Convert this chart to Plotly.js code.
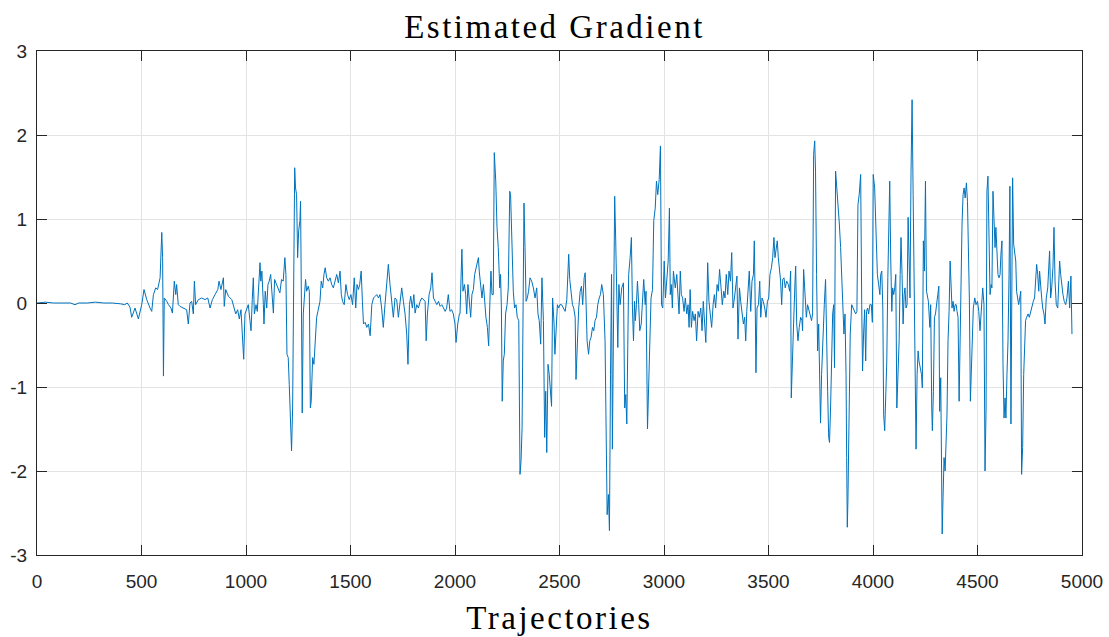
<!DOCTYPE html>
<html>
<head>
<meta charset="utf-8">
<script src="https://cdn.plot.ly/plotly-3.0.1.min.js"></script>
<style>html,body{margin:0;padding:0;background:#fff;}#chart{width:1109px;height:637px;}
#chart .gtitle, #chart .xtitle{letter-spacing:2.5px;}</style>
</head>
<body>
<div id="chart"></div>
<script>
const trajectories = [
0,40,80,120,160,182,200,240,280,320,360,400,420,432,445,453,461,
469,485,501,512,525,541,549,557,568,577,589,597,601,605,609,621,629,641,648,657,664,668,676,684,700,716,724,732,740,748,753,759,772,788,804,817,828,839,852,865,871,880,892,896,903,916,932,943,951,960,968,976,983,989,995,1003,1011,1019,
1024,1030,1035,1040,1048,1054,1062,1067,1071,1076,1083,1086,1092,1099,1105,1111,1118,1124,1131,1137,1146,1154,1162,1170,1178,1186,1191,1196,1202,1207,1213,1218,1223,1228,1233,1237,1242,1247,1252,1258,1261,1266,1269,1274,1279,1285,1290,1298,1303,1308,1312,1319,1325,1331,1338,1344,1354,1360,1367,1373,1379,1386,1394,1402,1410,1418,1426,1434,1442,1450,1456,1462,1470,1478,1486,1494,1502,1510,1518,
1525,1531,1538,1544,1551,1557,1562,1570,1578,1586,1594,1602,1610,1618,1626,1634,1641,1649,1657,1665,1673,1681,1689,1697,1705,1713,1721,1729,1737,1745,1753,1761,1769,1775,1782,1788,1796,1803,1809,1817,1825,1833,1841,1849,1857,1862,1868,1876,1884,1890,1897,1905,1913,1921,1929,1937,1945,1953,1960,1968,1976,1984,1992,2000,2005,2013,2021,
2024,2029,2033,2038,2045,2051,2056,2062,2069,2075,2081,2088,2094,2100,2107,2112,2116,2123,2129,2136,2142,2148,2155,2161,2166,2172,2177,2183,2188,2195,2201,2207,2214,2218,2222,2226,2231,2236,2242,2249,2255,2262,2266,2273,2279,2285,2292,2298,2305,2311,2316,2321,2325,2330,2335,2340,2346,2352,2359,2367,2375,2383,2391,2397,2403,2410,2416,2423,2429,2434,2439,2445,2451,2458,2462,2467,2474,2478,2483,2490,2496,2502,2510,2518,
2520,2527,2535,2540,2544,2549,2556,2562,2568,2575,2579,2586,2592,2599,2605,2611,2618,2623,2627,2632,2639,2645,2651,2658,2664,2670,2677,2683,2690,2696,2702,2710,2718,2723,2728,2734,2739,2744,2749,2753,2758,2764,2769,2774,2779,2784,2790,2798,2806,2812,2817,2822,2827,2831,2838,2844,2849,2854,2859,2863,2868,2873,2879,2884,2891,2897,2903,2910,2914,2921,2926,2932,2938,2945,2951,2958,2964,2970,2977,2983,2988,2994,3001,3007,3013,3020,3026,
3030,3035,3040,3045,3050,3054,3061,3067,3072,3078,3083,3089,3096,3102,3109,3115,3120,3125,3131,3137,3144,3150,3156,3163,3169,3176,3182,3188,3195,3200,3204,3209,3215,3222,3228,3235,3241,3247,3254,3260,3266,3273,3279,3286,3292,3298,3305,3311,3318,3324,3330,3337,3343,3349,3354,3361,3367,3373,3380,3386,3391,3396,3402,3408,3415,3421,3428,3432,3437,3440,3445,3452,3458,3463,3469,3475,3482,3488,3495,3501,3507,3514,3520,3526,
3531,3536,3542,3547,3553,3558,3563,3568,3574,3580,3587,3595,3601,3606,3609,3614,3620,3627,3630,3635,3641,3647,3654,3660,3663,3668,3674,3681,3687,3694,3700,3706,3711,3716,3721,3725,3730,3735,3740,3745,3749,3754,3761,3767,3773,3778,3783,3788,3792,3797,3802,3807,3812,3816,3821,3826,3832,3839,3845,3850,3856,3861,3866,3871,3874,3877,3880,3885,3891,3898,3904,3910,3917,3923,3928,3934,3941,3946,3950,3955,3960,3965,3969,3974,3979,3985,3992,3997,4001,4008,4014,4021,4027,4033,
4037,4042,4047,4051,4056,4061,4066,4071,4075,4080,4085,4090,4094,4099,4104,4109,4114,4120,4125,4130,4134,4139,4144,4149,4153,4158,4163,4168,4173,4177,4182,4187,4192,4197,4201,4206,4211,4216,4220,4225,4232,4236,4241,4246,4251,4256,4260,4265,4272,4276,4281,4284,4289,4294,4299,4303,4310,4315,4319,4324,4327,4331,4335,4340,4345,4350,4354,4359,4364,4369,4374,4378,4383,4388,4393,4398,4402,4407,4412,4417,4421,4426,4431,4436,4441,4447,4452,4457,4461,4466,4471,4476,4480,4487,4493,4500,4506,4512,4519,4525,4531,4536,
4541,4545,4550,4555,4560,4565,4569,4574,4579,4584,4588,4593,4598,4603,4608,4612,4617,4622,4627,4632,4636,4641,4646,4651,4655,4660,4663,4668,4673,4678,4683,4687,4692,4697,4702,4707,4711,4716,4721,4726,4730,4735,4742,4748,4754,4761,4767,4773,4778,4783,4788,4793,4797,4802,4807,4812,4818,4823,4829,4836,4840,4845,4850,4855,4861,4866,4871,4877,4884,4888,4893,4898,4903,4909,4915,4922,4928,4935,4941,4947,4952
];
const gradient = [
0.00,0.01,0.00,0.00,0.00,-0.02,0.00,0.00,0.01,0.00,0.00,-0.01,-0.02,0.00,-0.05,-0.17,-0.10,
-0.06,-0.19,-0.02,0.16,0.04,-0.06,-0.10,0.10,0.18,0.16,0.30,0.84,0.54,-0.87,0.06,0.02,-0.02,-0.06,-0.12,0.26,0.10,0.22,-0.02,-0.04,-0.06,-0.08,-0.25,0.00,0.02,-0.13,0.26,-0.02,0.04,0.06,0.04,0.06,-0.06,0.04,0.10,0.16,0.26,0.16,0.30,-0.04,0.16,0.08,0.04,-0.06,-0.13,-0.08,-0.19,-0.08,-0.33,-0.67,-0.13,-0.06,-0.02,-0.21,
-0.33,0.04,0.30,-0.13,-0.02,-0.10,0.20,0.48,0.26,0.38,-0.02,-0.25,0.14,-0.06,0.22,0.26,0.34,0.14,-0.12,0.28,0.22,0.18,0.12,0.28,0.26,0.54,0.34,-0.61,-0.65,-0.97,-1.33,-1.76,-1.25,0.34,1.61,1.37,1.29,0.54,0.86,0.98,1.21,-0.25,-1.31,-0.13,0.02,0.28,0.14,0.20,0.14,-1.25,-1.17,-0.65,-0.73,-0.41,-0.17,-0.10,0.02,0.26,0.18,0.34,0.42,0.30,0.26,0.30,0.22,0.18,0.26,0.34,0.24,0.38,0.10,0.02,-0.02,0.22,0.10,0.04,0.10,-0.02,0.30,
-0.06,0.22,0.16,0.22,0.38,0.02,-0.25,-0.23,-0.29,-0.25,-0.39,-0.02,0.06,0.08,0.10,0.06,0.10,-0.06,-0.29,-0.02,0.18,0.46,0.22,0.02,-0.17,0.06,0.04,-0.17,-0.02,0.18,0.02,-0.13,-0.37,-0.73,-0.02,0.08,-0.06,0.10,-0.12,-0.02,-0.06,0.02,0.06,0.04,0.02,-0.45,-0.13,0.10,0.18,0.36,0.06,0.02,-0.02,0.02,-0.04,-0.02,-0.06,-0.10,-0.06,0.10,-0.10,-0.08,-0.13,-0.25,-0.47,-0.25,-0.13,
-0.13,0.30,0.64,0.14,0.22,0.10,-0.13,0.22,0.02,-0.17,0.10,0.16,0.34,0.42,0.48,0.54,0.38,0.18,0.06,0.22,-0.02,-0.17,-0.29,-0.51,-0.06,0.38,0.10,0.10,1.79,1.45,0.90,0.66,0.18,0.34,-0.06,-1.17,-0.69,-0.61,-0.13,-0.02,0.18,1.33,1.29,0.58,0.14,-0.06,-0.02,-0.17,-0.21,-2.04,-1.88,-1.48,0.02,1.19,0.66,0.02,0.06,0.14,0.30,0.26,0.18,0.06,0.18,-0.13,-0.21,-0.49,0.30,-0.21,-1.60,-1.05,-1.78,-0.73,-0.85,-1.05,-1.23,0.06,-0.25,-0.61,-0.29,-0.02,-0.06,-0.02,-0.02,-0.06,
-0.06,-0.10,0.04,0.34,0.58,0.28,0.14,-0.02,-0.06,-0.17,-0.91,-0.37,-0.06,0.14,0.20,-0.02,0.30,0.36,-0.17,-0.45,-0.61,-0.45,-0.41,-0.29,-0.33,-0.21,-0.17,-0.02,0.06,0.10,0.22,0.10,-0.45,-2.04,-2.52,-2.28,-2.71,-0.85,0.34,-1.74,-0.45,1.27,0.74,0.02,-0.53,0.22,-0.02,0.18,0.24,-1.25,-1.09,-1.44,0.02,0.34,0.54,0.78,-0.06,-0.45,0.02,-0.21,-0.02,0.26,-0.02,-0.33,-0.25,-0.02,0.28,-0.02,0.14,-1.50,-1.05,-0.25,0.06,0.16,0.98,1.13,1.45,1.29,1.47,1.87,-0.02,-0.06,0.50,0.06,0.26,0.50,1.13,
0.10,0.22,-0.06,0.38,0.26,0.18,0.34,0.10,-0.13,0.38,0.10,0.06,-0.10,0.06,-0.13,-0.02,-0.29,0.16,-0.29,-0.10,-0.21,-0.13,-0.45,-0.10,-0.17,-0.06,-0.33,0.02,-0.37,-0.47,-0.13,0.48,0.02,-0.17,-0.29,-0.02,0.10,-0.06,0.22,0.14,0.40,0.18,-0.02,0.14,0.06,0.34,0.10,0.38,0.26,0.60,-0.06,0.06,0.18,0.32,-0.43,0.18,0.02,-0.10,-0.25,-0.17,-0.45,-0.10,0.10,0.38,-0.10,0.26,0.34,0.74,-0.13,-0.83,-0.06,-0.02,0.26,-0.17,0.06,0.02,-0.06,-0.17,0.02,0.06,0.34,0.42,0.54,0.78,
0.54,0.62,0.74,0.54,0.38,0.26,-0.02,0.28,0.30,0.18,0.26,0.22,0.14,0.38,-1.13,-0.81,-0.25,0.26,0.44,-0.25,-0.45,-0.29,-0.17,-0.21,-0.33,0.40,0.10,-0.17,-0.02,-0.10,-0.17,-0.21,-0.13,1.77,1.93,1.57,0.34,-0.57,-0.25,-0.85,-1.43,-0.85,-0.25,-0.02,0.28,-0.21,-1.05,-1.60,-1.66,-1.25,-0.81,-0.13,-0.02,-0.77,1.57,1.41,1.21,0.94,0.66,0.34,-0.25,-0.37,-0.13,-0.85,-1.84,-2.67,-2.36,-1.25,-0.37,-0.02,-0.06,-0.10,-0.13,-0.10,1.17,1.29,1.53,-0.02,-0.81,-0.37,-0.08,-0.69,-0.10,-0.06,-0.13,-0.02,-0.02,-0.23,1.53,1.37,0.82,0.34,0.22,0.10,
0.34,0.38,-0.06,-1.33,-1.52,-1.09,-0.69,0.30,1.06,1.45,0.50,-0.10,0.18,0.10,0.18,0.34,-1.25,-0.85,-0.45,0.34,0.78,0.34,-0.25,0.10,0.18,-0.06,-0.02,1.02,0.38,0.06,1.57,2.42,1.29,0.26,-0.37,-1.74,-0.85,-0.57,-0.69,-0.77,-0.85,-1.01,0.74,0.38,1.45,0.14,0.06,0.02,-0.29,-0.02,-1.25,-1.52,-1.05,-0.17,-0.13,-0.02,0.10,0.20,-1.29,-0.89,-1.88,-2.75,-2.32,-1.84,-2.00,-1.60,-1.33,-0.45,-0.10,0.50,0.10,-0.06,0.02,-0.10,-0.02,-0.02,-0.10,-0.17,-1.17,-0.25,0.34,0.94,1.29,1.37,1.25,1.43,1.21,0.50,0.06,-1.17,-0.85,-0.33,-0.06,0.06,-0.02,0.02,-0.10,-0.33,-0.02,0.18,-0.02,-2.00,
-1.25,1.33,1.51,0.98,0.10,0.22,0.18,1.33,1.06,0.66,0.90,0.58,0.34,0.30,0.34,0.58,0.74,-0.73,-1.37,-1.13,-1.37,-0.85,-0.45,0.34,1.39,-1.44,-0.33,1.49,0.70,0.58,0.50,0.14,0.02,-0.02,0.06,0.14,-2.04,-1.72,-0.85,-0.29,-0.21,-0.17,-0.13,-0.17,-0.10,-0.02,0.02,0.06,0.26,0.46,0.34,0.14,0.38,0.18,0.06,-0.06,-0.13,-0.25,0.06,0.18,0.34,0.62,0.06,0.18,0.42,0.90,0.26,-0.02,-0.06,0.26,0.50,0.34,0.18,0.10,0.02,-0.02,0.06,0.26,-0.06,0.32,-0.37
];
const xTicks = [0,500,1000,1500,2000,2500,3000,3500,4000,4500,5000];
const xTickLabels = ['0','500','1000','1500','2000','2500','3000','3500','4000','4500','5000'];
const yTicks = [-3,-2,-1,0,1,2,3];
const yTickLabels = ['-3','-2','-1','0','1','2','3'];

const axisCommon = {
  showline: true, linecolor: '#262626', linewidth: 1, mirror: 'ticks',
  ticks: 'inside', ticklen: 10, tickcolor: '#262626', tickwidth: 1,
  showgrid: true, gridcolor: '#e3e3e3', gridwidth: 1, zeroline: false,
  tickfont: {family: 'Liberation Sans, Arial, sans-serif', size: 19, color: '#262626'}
};

Plotly.newPlot('chart', [{
  x: trajectories, y: gradient, type: 'scatter', mode: 'lines',
  line: {color: '#0072BD', width: 1}, hoverinfo: 'skip'
}], {
  width: 1109, height: 637,
  margin: {l: 37, r: 27, t: 51, b: 82},
  paper_bgcolor: '#ffffff', plot_bgcolor: '#ffffff',
  showlegend: false,
  title: {text: 'Estimated Gradient', x: 0.5, xanchor: 'center', y: 0.958, yanchor: 'middle',
    font: {family: 'Liberation Serif, Times New Roman, serif', size: 33, color: '#000000'}},
  xaxis: Object.assign({}, axisCommon, {range: [0, 5000], tickvals: xTicks, ticktext: xTickLabels,
    ticklabelstandoff: 9,
    title: {text: 'Trajectories', standoff: 15, font: {family: 'Liberation Serif, Times New Roman, serif', size: 33, color: '#000000'}}}),
  yaxis: Object.assign({}, axisCommon, {range: [-3, 3], tickvals: yTicks, ticktext: yTickLabels,
    ticklabelstandoff: 5})
}, {displayModeBar: false, staticPlot: true});
</script>
</body>
</html>
